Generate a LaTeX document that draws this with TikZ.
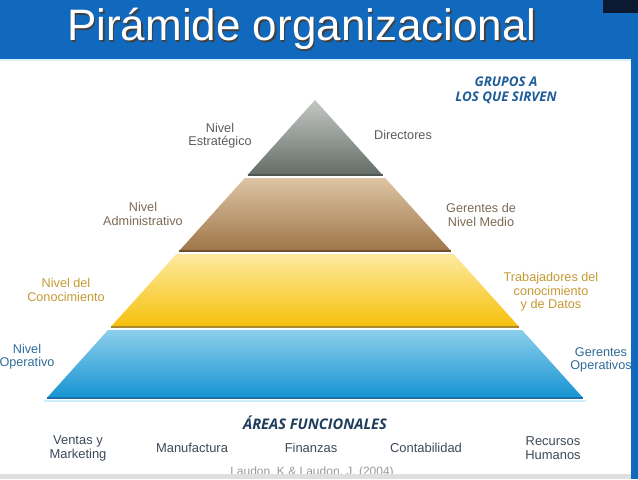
\documentclass[tikz,border=0pt]{standalone}
\usepackage{fontspec}
\setmainfont{Liberation Sans}
\newfontfamily\grpfont{Open Sans}
\usepackage{tikz}
\usetikzlibrary{positioning}

\definecolor{hdrblue}{HTML}{1169BD}
\definecolor{tagnavy}{HTML}{0B1A30}
\definecolor{txtgray}{HTML}{5C5C5C}
\definecolor{txtbrown}{HTML}{7E6A55}
\definecolor{txtgold}{HTML}{C49A34}
\definecolor{txtblue}{HTML}{2F6C9A}
\definecolor{grpblue}{HTML}{1F5D99}
\definecolor{areablue}{HTML}{1E3D5C}
\definecolor{areatext}{HTML}{3D4A58}
% layer colours
\definecolor{graytop}{RGB}{196,200,196}
\definecolor{graybot}{RGB}{100,108,103}
\definecolor{grayline}{RGB}{80,86,82}
\definecolor{browntop}{RGB}{222,196,164}
\definecolor{brownbot}{RGB}{158,118,72}
\definecolor{brownline}{RGB}{110,80,48}
\definecolor{yelltop}{RGB}{253,234,160}
\definecolor{yellbot}{RGB}{246,192,10}
\definecolor{yellline}{RGB}{170,136,48}
\definecolor{bluetop}{RGB}{140,206,236}
\definecolor{bluebot}{RGB}{22,148,210}
\definecolor{blueline}{RGB}{26,112,172}

\begin{document}
\begin{tikzpicture}[x=0.75pt,y=-0.75pt,
   title/.style={font=\fontsize{33}{36}\selectfont, anchor=base, inner sep=0pt},
   lbl/.style={align=center, font=\fontsize{9.5}{10}\selectfont, inner sep=0pt},
   grp/.style={align=center, font=\grpfont\bfseries\itshape\fontsize{10}{11}\selectfont, inner sep=0pt},
   area/.style={align=center, font=\fontsize{9.7}{10.5}\selectfont, text=areatext, inner sep=0pt},
   sep/.style={line width=1.4pt}]
   \useasboundingbox (0,0) rectangle (638,479);

   % slide frame
   \fill[hdrblue] (0,0) rectangle (638,479);
   \fill[white] (0,60) rectangle (631,474);
   \draw[cyan!15, line width=1.5pt] (0,60) -- (631,60);
   \fill[tagnavy] (603,0) rectangle (638,13);

   \node[title, text=black!75] (tsh) at (303.5,42) {Pirámide organizacional};
   \node[title, text=white]    (ttl) at (302,40.5) {Pirámide organizacional};

   % pyramid layers
   \shade[top color=graytop, bottom color=graybot]
      (315,100) -- (382.5,175) -- (247.5,175) -- cycle;
   \draw[sep, grayline] (247.5,175) -- (382.5,175);

   \shade[top color=browntop, bottom color=brownbot]
      (244.8,178) -- (385.2,178) -- (450.9,251) -- (179.1,251) -- cycle;
   \draw[sep, brownline] (179.1,251) -- (450.9,251);

   \shade[top color=yelltop, bottom color=yellbot]
      (176.4,254) -- (453.6,254) -- (519.3,327) -- (110.7,327) -- cycle;
   \draw[sep, yellline] (110.7,327) -- (519.3,327);

   \shade[top color=bluetop, bottom color=bluebot]
      (108,330) -- (522,330) -- (583.2,398) -- (46.8,398) -- cycle;
   \draw[sep, blueline] (46.8,398) -- (583.2,398);
   \draw[line width=1.5pt, cyan!20] (44,401) -- (586,401);

   % levels and groups
   \node[lbl, text=txtgray]  (estr)  at (220,136) {Nivel\\Estratégico};
   \node[lbl, text=txtgray]  (dir)   at (403,135) {Directores};
   \node[lbl, text=txtbrown] (adm)   at (143,214) {Nivel\\Administrativo};
   \node[lbl, text=txtbrown] (medio) at (481,215) {Gerentes de\\Nivel Medio};
   \node[lbl, text=txtgold]  (conoc) at (66,290)  {Nivel del\\Conocimiento};
   \node[lbl, text=txtgold]  (trab)  at (551,292) {Trabajadores del\\conocimiento\\y de Datos};
   \node[lbl, text=txtblue]  (oper)  at (27,357)  {Nivel\\Operativo};
   \node[lbl, text=txtblue]  (gerop) at (601,360) {Gerentes\\Operativos};

   \node[grp, text=grpblue]  (grupos) at (506,90)  {GRUPOS A\\LOS QUE SIRVEN};
   \node[grp, text=areablue, font=\grpfont\bfseries\itshape\fontsize{11}{12}\selectfont]
      (areas) at (315,423) {ÁREAS FUNCIONALES};

   % functional areas
   \node[area] (ventas) at (78,448)  {Ventas y\\Marketing};
   \node[area] (manuf)  at (192,448) {Manufactura};
   \node[area] (fin)    at (311,448) {Finanzas};
   \node[area] (cont)   at (426,448) {Contabilidad};
   \node[area] (rrhh)   at (553,448) {Recursos\\Humanos};

   \node[font=\fontsize{9}{10}\selectfont, text=gray!80, anchor=base, inner sep=0pt] (laudon) at (312,475)
      {Laudon, K \& Laudon, J. (2004)};
   \fill[gray!25] (0,474) rectangle (631,479);
\end{tikzpicture}
\end{document}
